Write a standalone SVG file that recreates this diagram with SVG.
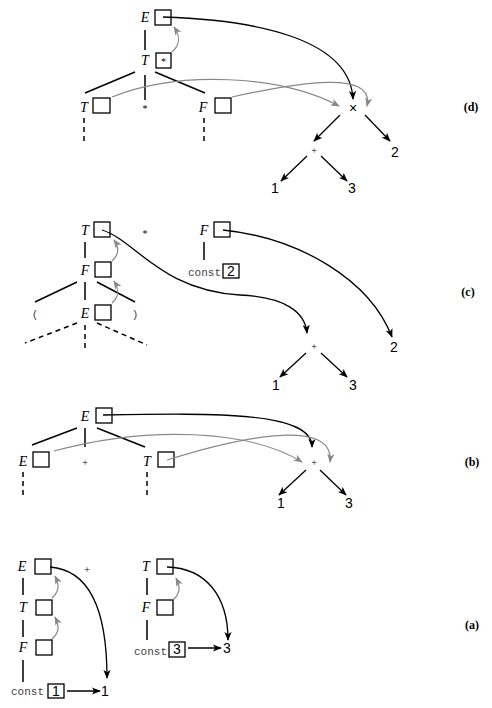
<svg xmlns="http://www.w3.org/2000/svg" width="492" height="708" viewBox="0 0 492 708">
<style>
.lbl{font-family:"Liberation Serif",serif;font-style:italic;font-size:14px;text-anchor:middle;fill:#000}
.sym{font-family:"Liberation Serif",serif;font-size:10px;text-anchor:middle;fill:#000}
.num{font-family:"Liberation Sans",sans-serif;font-size:14px;text-anchor:middle;fill:#000}
.mono{font-family:"Liberation Mono",monospace;font-size:11px;fill:#444}
.tag{font-family:"Liberation Serif",serif;font-weight:bold;font-size:12px;text-anchor:middle;fill:#000}
.box{fill:none;stroke:#000;stroke-width:1.3}
.tree{stroke:#000;stroke-width:1.5;fill:none}
.dash{stroke:#000;stroke-width:1.5;fill:none;stroke-dasharray:5,4}
.blk{stroke:#000;stroke-width:1.3;fill:none;marker-end:url(#ab)}
.gry{stroke:#888;stroke-width:1.2;fill:none;marker-end:url(#ag)}
</style>
<defs>
<marker id="ab" viewBox="0 0 10 8" refX="9" refY="4" markerWidth="9" markerHeight="8" markerUnits="userSpaceOnUse" orient="auto"><path d="M0,0 L10,4 L0,8 L2.5,4 z" fill="#000"/></marker>
<marker id="ag" viewBox="0 0 10 8" refX="9" refY="4" markerWidth="9" markerHeight="8" markerUnits="userSpaceOnUse" orient="auto"><path d="M0,0 L10,4 L0,8 L2.5,4 z" fill="#888"/></marker>
</defs>

<!-- Panel (d) -->
<g id="d-tree">
<g id="d-E"><text class="lbl" x="145" y="22">E</text><rect class="box" x="155" y="10" width="16" height="15"/></g>
<g id="d-T"><text class="lbl" x="145" y="65">T</text><rect class="box" x="156" y="53" width="15" height="15"/><text class="sym" x="163.5" y="65">*</text></g>
<g id="d-T2"><text class="lbl" x="84" y="112">T</text><rect class="box" x="93" y="98" width="17" height="15"/></g>
<g id="d-star"><text class="sym" x="145" y="112">*</text></g>
<g id="d-F"><text class="lbl" x="203" y="112">F</text><rect class="box" x="215" y="98" width="16" height="15"/></g>
<g id="d-times"><text class="num" x="353" y="113">×</text></g>
<g id="d-plus"><text class="sym" x="314" y="154">+</text></g>
<g id="d-2"><text class="num" x="395" y="157">2</text></g>
<g id="d-1"><text class="num" x="275" y="193">1</text></g>
<g id="d-3"><text class="num" x="352" y="193">3</text></g>
<g id="d-tag"><text class="tag" x="471" y="111">(d)</text></g>
</g>

<!-- Panel (c) -->
<g id="c-tree">
<g id="c-T"><text class="lbl" x="85" y="235">T</text><rect class="box" x="94" y="222" width="16" height="15"/></g>
<g id="c-F"><text class="lbl" x="85" y="275">F</text><rect class="box" x="95" y="262" width="16" height="15"/></g>
<g id="c-lp"><text class="mono" x="35" y="318" text-anchor="middle">(</text></g>
<g id="c-E"><text class="lbl" x="85" y="318">E</text><rect class="box" x="95" y="305" width="16" height="15"/></g>
<g id="c-rp"><text class="mono" x="135" y="318" text-anchor="middle">)</text></g>
<g id="c-star"><text class="sym" x="145" y="237">*</text></g>
<g id="c-F2"><text class="lbl" x="204" y="235">F</text><rect class="box" x="214" y="222" width="16" height="15"/></g>
<g id="c-const"><text class="mono" x="221" y="276" text-anchor="end">const</text><rect class="box" x="223" y="264" width="16" height="14"/><text class="num" x="231" y="276">2</text></g>
<g id="c-plus"><text class="sym" x="314" y="350">+</text></g>
<g id="c-2"><text class="num" x="394" y="352">2</text></g>
<g id="c-1"><text class="num" x="276" y="390">1</text></g>
<g id="c-3"><text class="num" x="353" y="390">3</text></g>
<g id="c-tag"><text class="tag" x="468" y="296">(c)</text></g>
</g>

<!-- Panel (b) -->
<g id="b-tree">
<g id="b-E"><text class="lbl" x="85" y="421">E</text><rect class="box" x="96" y="408" width="16" height="15"/></g>
<g id="b-E2"><text class="lbl" x="23" y="466">E</text><rect class="box" x="33" y="452" width="16" height="15"/></g>
<g id="b-plusop"><text class="sym" x="85" y="466">+</text></g>
<g id="b-T"><text class="lbl" x="147" y="466">T</text><rect class="box" x="158" y="452" width="16" height="15"/></g>
<g id="b-plus"><text class="sym" x="314" y="466">+</text></g>
<g id="b-1"><text class="num" x="281" y="508">1</text></g>
<g id="b-3"><text class="num" x="349" y="508">3</text></g>
<g id="b-tag"><text class="tag" x="472" y="466">(b)</text></g>
</g>

<!-- Panel (a) -->
<g id="a-tree">
<g id="a-E"><text class="lbl" x="22" y="571">E</text><rect class="box" x="35" y="559" width="16" height="15"/></g>
<g id="a-plusop"><text class="sym" x="87" y="573">+</text></g>
<g id="a-T"><text class="lbl" x="23" y="612">T</text><rect class="box" x="36" y="600" width="16" height="15"/></g>
<g id="a-F"><text class="lbl" x="23" y="652">F</text><rect class="box" x="36" y="640" width="16" height="15"/></g>
<g id="a-const1"><text class="mono" x="44" y="695" text-anchor="end">const</text><rect class="box" x="48" y="684" width="16" height="14"/><text class="num" x="56" y="696">1</text></g>
<g id="a-1"><text class="num" x="105" y="696">1</text></g>
<g id="a-T2"><text class="lbl" x="146" y="571">T</text><rect class="box" x="157" y="559" width="16" height="15"/></g>
<g id="a-F2"><text class="lbl" x="146" y="612">F</text><rect class="box" x="157" y="600" width="16" height="15"/></g>
<g id="a-const3"><text class="mono" x="167" y="655" text-anchor="end">const</text><rect class="box" x="169" y="642" width="16" height="15"/><text class="num" x="177" y="654">3</text></g>
<g id="a-3"><text class="num" x="227" y="653">3</text></g>
<g id="a-tag"><text class="tag" x="472" y="629">(a)</text></g>
</g>

<g id="connectors">
<!-- (d) -->
<path class="tree" d="M145,30 V50 M135,72 L85,93 M145,75 V100 M155,72 L205,93"/>
<path class="dash" d="M84,118 V143 M204,118 V143"/>
<path class="gry" d="M172,52 C181,44 180,36 174,27"/>
<path class="blk" d="M163,17 C260,20 350,40 353,99"/>
<path class="gry" d="M112,97 C180,70 280,75 339,106"/>
<path class="gry" d="M232,97 C300,82 375,70 367,106"/>
<path class="blk" d="M340,115 L314,141"/>
<path class="blk" d="M365,115 L390,141"/>
<path class="blk" d="M307,156 L281,181"/>
<path class="blk" d="M321,156 L347,181"/>
<!-- (c) -->
<path class="tree" d="M85,242 V258 M77,282 L35,302 M85,282 V300 M97,282 L135,302 M204,242 V260"/>
<path class="dash" d="M77,323 L25,343 M85,325 V350 M97,323 L147,345"/>
<path class="gry" d="M112,261 C120,254 119,247 114,240"/>
<path class="gry" d="M112,303 C120,296 119,289 114,281"/>
<path class="blk" d="M102,230 C135,240 160,290 240,295 C285,297 305,312 307,333"/>
<path class="blk" d="M223,230 C300,238 370,280 392,337"/>
<path class="blk" d="M306,353 L280,377"/>
<path class="blk" d="M321,353 L347,377"/>
<!-- (b) -->
<path class="tree" d="M77,428 L32,445 M85,428 V447 M97,428 L145,447"/>
<path class="dash" d="M23,472 V497 M147,472 V497"/>
<path class="blk" d="M103,415 C220,413 312,412 312,447"/>
<path class="gry" d="M54,451 C150,425 250,430 302,462"/>
<path class="gry" d="M167,460 C230,440 335,415 330,462"/>
<path class="blk" d="M306,470 L279,495"/>
<path class="blk" d="M320,470 L346,495"/>
<!-- (a) -->
<path class="tree" d="M23,578 V595 M23,620 V637 M23,660 V682 M147,578 V595 M147,620 V640"/>
<path class="gry" d="M52,598 C60,591 59,584 55,576"/>
<path class="gry" d="M52,639 C60,632 59,625 55,617"/>
<path class="gry" d="M173,600 C181,593 180,586 176,578"/>
<path class="blk" d="M50,567 C90,570 107,610 107,678"/>
<path class="blk" d="M167,567 C205,568 228,595 228,640"/>
<path class="blk" d="M67,691 L100,691"/>
<path class="blk" d="M188,648 L221,648"/>
</g>
</svg>
